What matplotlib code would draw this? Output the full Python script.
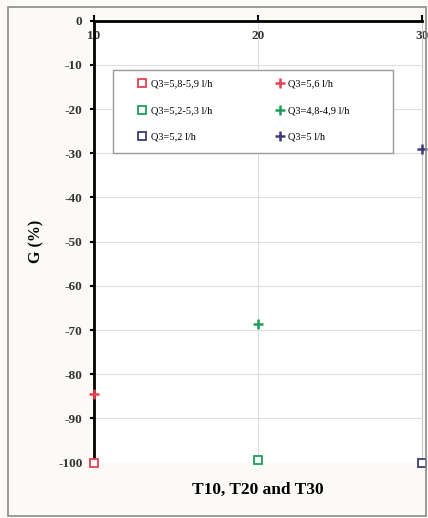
import matplotlib
matplotlib.use("Agg")
from matplotlib import pyplot as plt
from matplotlib.patches import Rectangle

#the values
temps = [10, 20, 30]
g_square = [-100, -99.5, -100]
g_plus = [-84.5, -68.7, -29]
square_labels = ["Q3=5,8-5,9 l/h", "Q3=5,2-5,3 l/h", "Q3=5,2 l/h"]
plus_labels = ["Q3=5,6 l/h", "Q3=4,8-4,9 l/h", "Q3=5 l/h"]
colors = ["#e8404f", "#1e9e5a", "#3d3b78"]
y_ticks = [0, -10, -20, -30, -40, -50, -60, -70, -80, -90, -100]

plt.rcParams["font.family"] = ["Liberation Serif", "DejaVu Serif"]
plt.rcParams["axes.unicode_minus"] = False

fig = plt.figure(figsize=(4.28, 5.18), dpi=100)
fig.patch.set_facecolor("#fbfaf6")
#grey frame round the whole chart
fig.patches.append(Rectangle((0.019, 0.004), 0.976, 0.983, transform=fig.transFigure,
                             fill=False, edgecolor="#8a8a8a", linewidth=1.2))

ax = fig.add_axes([0.219, 0.107, 0.767, 0.853])
ax.set_facecolor("white")

#squares first so the legend fills column 1 with them
handles = []
for x, y, c, lab in zip(temps, g_square, colors, square_labels):
    h, = ax.plot(x, y, linestyle="none", marker="s", markersize=5.5,
                 markerfacecolor="white", markeredgecolor=c, markeredgewidth=1.3,
                 clip_on=False, zorder=5, label=lab)
    handles.append(h)
for x, y, c, lab in zip(temps, g_plus, colors, plus_labels):
    h, = ax.plot(x, y, linestyle="none", marker="+", markersize=7,
                 markeredgecolor=c, markeredgewidth=1.8,
                 clip_on=False, zorder=5, label=lab)
    handles.append(h)

ax.set_xlim(10, 30)
ax.set_ylim(-100, 0)
ax.set_xticks(temps)
ax.set_yticks(y_ticks)
ax.set_yticklabels([str(v) for v in y_ticks])

#x axis sits on the zero line at the top, labels hang below it
ax.spines["bottom"].set_position(("data", 0))
ax.spines["bottom"].set_linewidth(2)
ax.spines["left"].set_linewidth(2)
ax.spines["top"].set_visible(False)
ax.spines["right"].set_color("#c8c8c8")
ax.tick_params(axis="x", direction="in", length=4, width=1.5, pad=7, labelsize=9.5)
ax.tick_params(axis="y", direction="out", length=3, width=1.5, pad=5, labelsize=9.5)
for lab in ax.get_xticklabels() + ax.get_yticklabels():
    lab.set_fontweight("bold")
    lab.set_color("#333333")
ax.grid(True, color="#dedede", linewidth=0.8)
ax.set_axisbelow(True)

ax.set_ylabel("G (%)", fontsize=11.5, fontweight="bold", labelpad=10)
ax.text(0.5, -0.062, "T10, T20 and T30", transform=ax.transAxes, ha="center", va="center",
        fontsize=12.5, fontweight="bold")

#legend box is wider than its content, so draw the frame on its own
ax.add_patch(Rectangle((0.059, 0.700), 0.853, 0.188, transform=ax.transAxes,
                       facecolor="white", edgecolor="#9a9a9a", linewidth=1.0, zorder=4.5))
ax.legend(handles=handles, ncol=2, loc="upper left",
          bbox_to_anchor=(0.132, 0.867),
          fontsize=7.5, labelspacing=1.65, handlelength=1.0, handletextpad=0.3,
          columnspacing=6.0, borderpad=0, borderaxespad=0, frameon=False)

plt.savefig("out.png", dpi=100, facecolor=fig.get_facecolor())
